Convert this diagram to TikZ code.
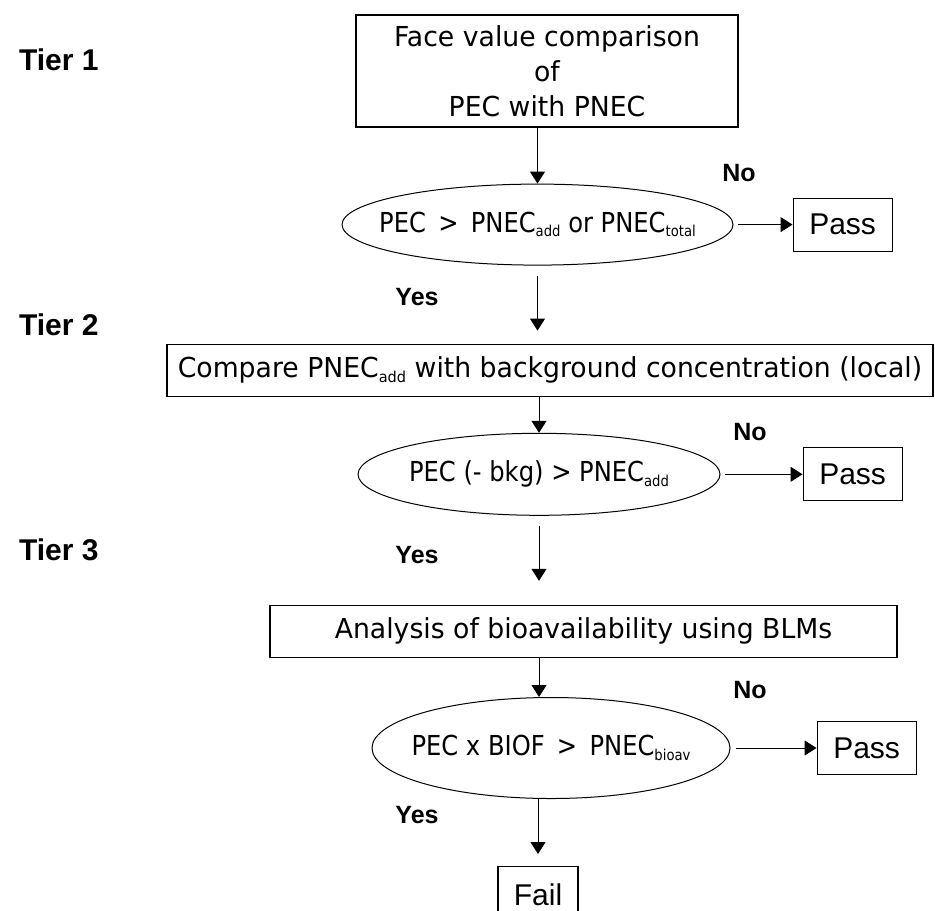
\documentclass[tikz,border=0pt]{standalone}
\usepackage{fontspec}
\setmainfont{DejaVu Sans}[FakeStretch=0.97]
\newfontfamily\ovalfont{DejaVu Sans}[FakeStretch=0.88]
\newfontfamily\arialfont{Liberation Sans}
\usetikzlibrary{positioning,shapes.geometric,arrows.meta}

% small lowered index, as in PNEC_add
\newcommand{\low}[1]{\raisebox{-2.2pt}{\fontsize{7.5}{8}\selectfont #1}}

\tikzset{
	stepbox/.style={draw, line width=0.6pt, inner sep=0pt, align=center,
		font=\fontsize{13.75}{17.5}\selectfont},
	decision/.style={draw, ellipse, line width=0.5pt, inner sep=0pt,
		font=\ovalfont\fontsize{13.75}{17.5}\selectfont},
	result/.style={draw, line width=0.6pt, inner sep=0pt, minimum width=49.5pt,
		minimum height=26.5pt, font=\arialfont\fontsize{15}{18}\selectfont},
	tier/.style={anchor=west, font=\arialfont\bfseries\fontsize{15}{18}\selectfont},
	answer/.style={font=\arialfont\bfseries\fontsize{12.5}{15}\selectfont},
	flow/.style={-{Triangle[length=6pt,width=7.5pt]}, line width=0.5pt},
}

\begin{document}
\begin{tikzpicture}[x=0.5pt, y=-0.5pt]
	\useasboundingbox (0,0) rectangle (935,910);

	% tier 1
	\node[stepbox, minimum width=191pt, minimum height=56pt] (face) at (547,71)
		{Face value comparison\\of\\PEC with PNEC};
	\node[decision, minimum width=195.5pt, minimum height=40.5pt, below=28pt of face, xshift=-4.75pt] (d1)
		{\makebox[0pt]{PEC \,>\, PNEC\low{add} or PNEC\low{total}}};
	\node[result, right=29.5pt of d1] (pass1) {Pass};

	% tier 2
	\node[stepbox, minimum width=383pt, minimum height=26pt, below=39pt of d1, xshift=6.25pt] (compare)
		{Compare PNEC\low{add} with background concentration (local)};
	\node[decision, minimum width=181pt, minimum height=41pt, below=18pt of compare, xshift=-5.5pt] (d2)
		{\makebox[0pt]{PEC (- bkg) > PNEC\low{add}}};
	\node[result, right=41pt of d2] (pass2) {Pass};

	% tier 3
	\node[stepbox, minimum width=313.5pt, minimum height=26pt, below=44.5pt of d2, xshift=22.25pt] (blm)
		{Analysis of bioavailability using BLMs};
	\node[decision, minimum width=179pt, minimum height=50.5pt, below=19.5pt of blm, xshift=-16.25pt] (d3)
		{\makebox[0pt]{PEC x BIOF \,>\, PNEC\low{bioav}}};
	\node[result, right=43pt of d3] (pass3) {Pass};
	\node[result, minimum width=40pt, minimum height=28pt, below=33.5pt of d3, xshift=-6.5pt] (fail) {Fail};

	% labels
	\node[tier] (t1) at (12,60) {Tier 1};
	\node[tier] (t2) at (12,325) {Tier 2};
	\node[tier] (t3) at (12,550) {Tier 3};
	\node[answer] (no1) at (739,173) {No};
	\node[answer] (no2) at (750,432) {No};
	\node[answer] (no3) at (750,690) {No};
	\node[answer] (yes1) at (417,297) {Yes};
	\node[answer] (yes2) at (417,555) {Yes};
	\node[answer] (yes3) at (417,815) {Yes};

	% arrows
	\draw[flow] (face.south -| d1.north) -- (d1.north);
	\draw[flow, shorten <=5pt, shorten >=6.5pt] (d1.south) -- (d1.south |- compare.north);
	\draw[flow] (compare.south -| d2.north) -- (d2.north);
	\draw[flow, shorten <=5pt, shorten >=12pt] (d2.south) -- (d2.south |- blm.north);
	\draw[flow] (blm.south -| d2.south) -- (d3.north -| d2.south);
	\draw[flow, shorten >=6pt] (d3.south -| fail.north) -- (fail.north);
	\draw[flow, shorten <=2pt] (d1.east) -- (d1.east -| pass1.west);
	\draw[flow, shorten <=2pt] (d2.east) -- (d2.east -| pass2.west);
	\draw[flow, shorten <=2.5pt] (d3.east) -- (d3.east -| pass3.west);
\end{tikzpicture}
\end{document}
